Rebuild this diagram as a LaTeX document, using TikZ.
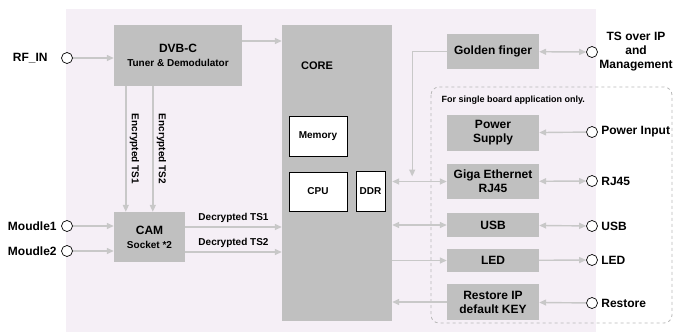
\documentclass[tikz,border=0pt]{standalone}
\usepackage{fontspec}
\setmainfont{Liberation Sans}
\usetikzlibrary{arrows.meta,positioning}
\definecolor{bgpink}{HTML}{F5EFF6}
\definecolor{boxgray}{HTML}{C0C0C0}
\definecolor{wiregray}{HTML}{C8C8C8}
\definecolor{dashgray}{HTML}{B8B8B8}
\tikzset{
  blk/.style={fill=boxgray,align=center,inner sep=0pt,font=\bfseries\fontsize{12}{14}\selectfont},
  inbox/.style={draw=black,line width=0.7pt,fill=white,inner sep=0pt,font=\bfseries\fontsize{10}{12}\selectfont},
  port/.style={circle,draw=black,line width=0.7pt,fill=white,minimum size=11pt,inner sep=0pt},
  lbl/.style={font=\bfseries\fontsize{12}{14}\selectfont,align=center},
  small/.style={font=\bfseries\fontsize{10}{12}\selectfont},
  wire/.style={draw=wiregray,line width=1.4pt},
}
\begin{document}
\begin{tikzpicture}[x=1pt,y=-1pt,>={Triangle[length=7pt,width=6pt]}]
\useasboundingbox (0,0) rectangle (675,333);
\fill[bgpink] (66,9) rectangle (596,332);
\draw[dashgray,dashed,line width=0.8pt,rounded corners=8pt] (431,87) rectangle (672,323);

% blocks
\node[blk,minimum width=128pt,minimum height=61pt] (dvbc) at (178,55.5)
  {DVB-C\\{\fontsize{10}{12}\selectfont Tuner \& Demodulator}};
\node[blk,minimum width=110pt,minimum height=296pt] (core) at (337,173) {};
\node[lbl,font=\bfseries\fontsize{11}{13}\selectfont] (corelbl) at (317,66) {CORE};
\node[inbox,minimum width=58pt,minimum height=40pt] (mem) at (318,136) {Memory};
\node[inbox,minimum width=58pt,minimum height=39pt] (cpu) at (318,191.5) {CPU};
\node[inbox,minimum width=29pt,minimum height=40pt] (ddr) at (370.5,191) {DDR};
\node[blk,minimum width=71pt,minimum height=50pt] (cam) at (149.5,237)
  {CAM\\{\fontsize{10}{12}\selectfont Socket *2}};

\node[blk,minimum width=92pt,minimum height=35pt] (golden) at (493,51.5) {Golden finger};
\node[font=\bfseries\fontsize{9}{11}\selectfont,anchor=west] (sbnote) at (438,100) {For single board application only.};
\node[blk,minimum width=92pt,minimum height=36pt] (power) at (493,133) {Power\\Supply};
\node[blk,minimum width=92pt,minimum height=35pt] (giga) at (493,181.5) {Giga Ethernet\\RJ45};
\node[blk,minimum width=92pt,minimum height=24pt] (usb) at (493,225) {USB};
\node[blk,minimum width=92pt,minimum height=23pt] (led) at (493,260.5) {LED};
\node[blk,minimum width=92pt,minimum height=36pt] (restore) at (493,302) {Restore IP\\default KEY};

% ports
\node[port] (rfin) at (67,58) {};
\node[port] (m1) at (67,226) {};
\node[port] (m2) at (67,251) {};
\node[lbl,left=10pt of rfin] (rfinlbl) {RF\_IN};
\node[lbl,left=1pt of m1] (m1lbl) {Moudle1};
\node[lbl,left=1pt of m2] (m2lbl) {Moudle2};

\node[port] (pgold) at (592,52) {};
\node[port] (ppow) at (592,132) {};
\node[port] (pgiga) at (592,181) {};
\node[port] (pusb) at (592,226) {};
\node[port] (pled) at (592,260) {};
\node[port] (prst) at (592,303) {};
\node[lbl] (pgoldlbl) at (636,52) {TS over IP\\and\\Management};
\node[lbl,right=0pt of ppow] (ppowlbl) {Power Input};
\node[lbl,right=0pt of pgiga] (pgigalbl) {RJ45};
\node[lbl,right=0pt of pusb] (pusblbl) {USB};
\node[lbl,right=0pt of pled] (pledlbl) {LED};
\node[lbl,right=0pt of prst] (prstlbl) {Restore};

% connectors
\draw[wire,->] (rfin) -- (rfin -| dvbc.west);
\draw[wire,->] ([yshift=14.5pt]dvbc.east) -- ([yshift=14.5pt]dvbc.east -| core.west);
\draw[wire,->] ([xshift=12pt]dvbc.south west) -- node[small,midway,sloped,above] {Encrypted TS1} ([xshift=12pt]cam.north west);
\draw[wire,->] ([xshift=39pt]dvbc.south west) -- node[small,midway,sloped,above] {Encrypted TS2} ([xshift=39pt]cam.north west);
\draw[wire,->] (m1) -- (m1 -| cam.west);
\draw[wire,->] (m2) -- (m2 -| cam.west);
\draw[wire,->] ([yshift=10pt]cam.east) -- node[small,midway,above] {Decrypted TS1} ([yshift=10pt]cam.east -| core.west);
\draw[wire,->] ([yshift=-15pt]cam.east) -- node[small,midway,above] {Decrypted TS2} ([yshift=-15pt]cam.east -| core.west);

\draw[wire,<->] (golden) -- (pgold);
\draw[wire,->] (golden.west) -| ([xshift=20pt,yshift=5pt]core.east |- giga);
\draw[wire,->] (ppow) -- (power);
\draw[wire,<->] (core.east |- giga) -- (giga);
\draw[wire,<->] (giga) -- (pgiga);
\draw[wire,<->] (core.east |- usb) -- (usb);
\draw[wire,<->] (usb) -- (pusb);
\draw[wire,->] (core.east |- led) -- (led);
\draw[wire,->] (led) -- (pled);
\draw[wire,->] (restore) -- (core.east |- restore);
\draw[wire,->] (prst) -- (restore);
\end{tikzpicture}
\end{document}
